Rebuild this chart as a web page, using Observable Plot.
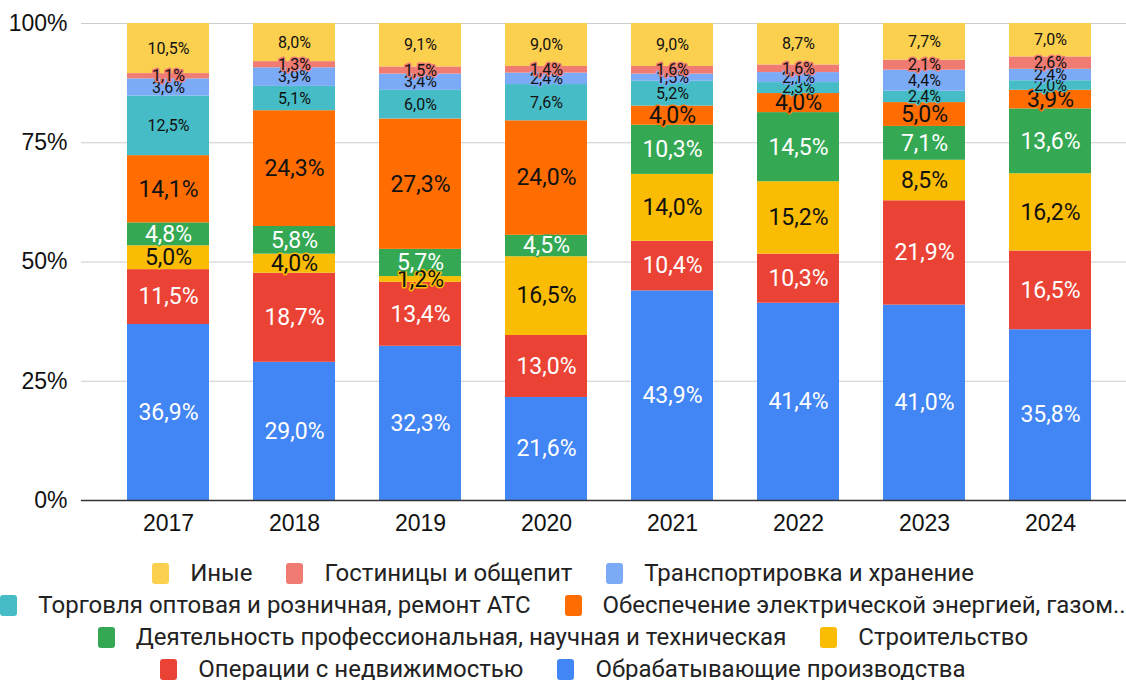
<!DOCTYPE html>
<html><head><meta charset="utf-8">
<script src="https://cdn.jsdelivr.net/npm/d3@7"></script>
<script src="https://cdn.jsdelivr.net/npm/@observablehq/plot@0.6"></script>
<style>
body{margin:0;background:#fff;font-family:Roboto,"Liberation Sans",sans-serif;}
#legend{width:1126px;padding-top:12px;}
.row{display:flex;justify-content:center;align-items:center;height:32px;gap:34px;}
.item{display:flex;align-items:center;gap:21px;font-size:24px;color:#222;white-space:nowrap;}
.sw{width:17px;height:21px;border-radius:3px;display:inline-block;}
</style></head>
<body><div id="chart"></div><div id="legend"></div>
<script>
const years = ["2017","2018","2019","2020","2021","2022","2023","2024"];
const series = [
  "Обрабатывающие производства",
  "Операции с недвижимостью",
  "Строительство",
  "Деятельность профессиональная, научная и техническая",
  "Обеспечение электрической энергией, газом..",
  "Торговля оптовая и розничная, ремонт АТС",
  "Транспортировка и хранение",
  "Гостиницы и общепит",
  "Иные"
];
const colors = ["#4285F4","#EA4335","#FBBC04","#34A853","#FF6D01","#46BDC6","#7BAAF7","#F07B72","#FCD04F"];
const labelColors = ["#ffffff","#ffffff","#111111","#ffffff","#111111","#111111","#111111","#111111","#111111"];
const labelSizes = [23,23,23,23,23,16,16,16,16];
const manufacturing = [36.9,29.0,32.3,21.6,43.9,41.4,41.0,35.8];
const realEstate    = [11.5,18.7,13.4,13.0,10.4,10.3,21.9,16.5];
const construction  = [5.0,4.0,1.2,16.5,14.0,15.2,8.5,16.2];
const professional  = [4.8,5.8,5.7,4.5,10.3,14.5,7.1,13.6];
const energy        = [14.1,24.3,27.3,24.0,4.0,4.0,5.0,3.9];
const trade         = [12.5,5.1,6.0,7.6,5.2,2.3,2.4,2.0];
const transport     = [3.6,3.9,3.4,2.4,1.5,2.1,4.4,2.4];
const hotels        = [1.1,1.3,1.5,1.4,1.6,1.6,2.1,2.6];
const other         = [10.5,8.0,9.1,9.0,9.0,8.7,7.7,7.0];
const legendRows = [[8,7,6],[5,4],[3,2],[1,0]];

const values = [manufacturing,realEstate,construction,professional,energy,trade,transport,hotels,other];
const data = [];
years.forEach((y,i)=>series.forEach((s,k)=>data.push({year:y,series:s,k,value:values[k][i]})));
const fmt = v => d3.format(".1f")(v).replace(".",",")+"%";

const chart = Plot.plot({
  width:1126, height:545,
  marginLeft:81, marginRight:0, marginTop:23, marginBottom:45,
  style:{fontFamily:"Roboto, sans-serif", background:"#fff"},
  x:{domain:years, paddingInner:0.35, paddingOuter:0.312, align:0.57, label:null, tickSize:0, tickPadding:14},
  y:{domain:[0,1], ticks:[0,0.25,0.5,0.75,1], tickFormat:d3.format(".0%"), label:null, tickSize:0, tickPadding:14},
  color:{type:"identity"},
  marks:[
    Plot.ruleY([0.25,0.5,0.75,1],{stroke:"#cccccc",strokeWidth:1.2}),
    Plot.barY(data, Plot.stackY({x:"year", y:"value", z:"series", offset:"normalize", fill:d=>colors[d.k]})),
    Plot.ruleY([0],{stroke:"#333",strokeWidth:1.3}),
    Plot.text(data, Plot.stackY({x:"year", y:"value", z:"series", offset:"normalize",
      text:d=>fmt(d.value), fill:d=>labelColors[d.k], stroke:d=>colors[d.k],
      fontSize:d=>labelSizes[d.k], strokeWidth:3, paintOrder:"stroke", fontFamily:"Roboto"}))
  ]
});
chart.querySelectorAll('g[aria-label$="axis tick label"]').forEach(g=>{g.setAttribute("font-size","23");g.setAttribute("font-family","Liberation Sans, Arial, sans-serif");g.setAttribute("fill","#111");});
document.getElementById("chart").appendChild(chart);

const leg = document.getElementById("legend");
legendRows.forEach(r=>{
  const row = document.createElement("div"); row.className="row";
  r.forEach(k=>{
    const it = document.createElement("div"); it.className="item";
    const sw = document.createElement("span"); sw.className="sw"; sw.style.background=colors[k];
    const tx = document.createElement("span"); tx.textContent=series[k];
    it.appendChild(sw); it.appendChild(tx); row.appendChild(it);
  });
  leg.appendChild(row);
});
</script></body></html>
